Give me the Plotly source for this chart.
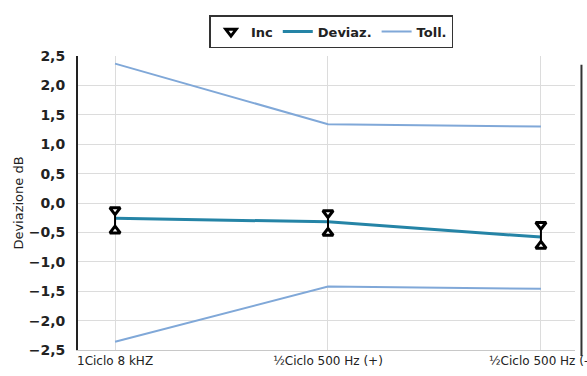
import plotly.graph_objects as go

# dati
categorie = ["1Ciclo 8 kHZ", "½Ciclo 500 Hz (+)", "½Ciclo 500 Hz (-)"]
deviaz = [-0.26, -0.32, -0.58]
inc_sup = [-0.12, -0.17, -0.37]
inc_inf = [-0.47, -0.51, -0.73]
toll_sup = [2.37, 1.34, 1.30]
toll_inf = [-2.36, -1.42, -1.46]

pos = list(range(len(categorie)))
FONT = "DejaVu Sans, Arial"

fig = go.Figure()

# tolleranze
fig.add_trace(go.Scatter(x=pos, y=toll_sup, mode="lines", name="Toll.",
                         legendgroup="toll", line=dict(color="#80a8d8", width=2)))
fig.add_trace(go.Scatter(x=pos, y=toll_inf, mode="lines", name="Toll.",
                         legendgroup="toll", showlegend=False,
                         line=dict(color="#80a8d8", width=2)))

# deviazione
fig.add_trace(go.Scatter(x=pos, y=deviaz, mode="lines", name="Deviaz.",
                         line=dict(color="#2584a6", width=3)))

# incertezza: segmenti verticali + triangoli
seg_x, seg_y = [], []
for p, a, b in zip(pos, inc_sup, inc_inf):
    seg_x += [p, p, None]
    seg_y += [a, b, None]
fig.add_trace(go.Scatter(x=seg_x, y=seg_y, mode="lines", showlegend=False,
                         legendgroup="inc", line=dict(color="black", width=2)))
fig.add_trace(go.Scatter(x=pos, y=inc_sup, mode="markers", name="Inc",
                         legendgroup="inc",
                         marker=dict(symbol="triangle-down", size=9, color="white",
                                     line=dict(color="black", width=3))))
fig.add_trace(go.Scatter(x=pos, y=inc_inf, mode="markers", showlegend=False,
                         legendgroup="inc",
                         marker=dict(symbol="triangle-up", size=9, color="white",
                                     line=dict(color="black", width=3))))

fig.update_layout(
    width=587, height=376,
    margin=dict(l=78, r=12, t=56, b=26, autoexpand=False),
    paper_bgcolor="white", plot_bgcolor="white",
    separators=",.",
    font=dict(family=FONT, size=12, color="#222"),
    legend=dict(orientation="h", x=0.51, xanchor="center", y=1.139, yanchor="top",
                traceorder="reversed", bordercolor="#333", borderwidth=1.5,
                bgcolor="white", font=dict(size=13, weight="bold"), itemwidth=30,
                tracegroupgap=0),
)

fig.update_xaxes(
    tickvals=pos, ticktext=categorie, range=[-0.174, 2.16],
    showgrid=True, gridcolor="#dcdcdc", gridwidth=1,
    showline=True, linecolor="#c8c8c8", linewidth=1, automargin=False,
    ticklabeloverflow="allow",
    ticks="", tickfont=dict(size=12, color="#222"), zeroline=False,
)
fig.update_yaxes(
    range=[-2.5, 2.5], dtick=0.5, tickformat=".1f", automargin=False,
    showgrid=True, gridcolor="#dcdcdc", gridwidth=1,
    showline=True, linecolor="#222", linewidth=2, zeroline=False,
    ticks="", ticklabelstandoff=8,
    tickfont=dict(size=14, color="#222", weight="bold"),
    title=dict(text="Deviazione dB", font=dict(size=13, color="#222"), standoff=2),
)

# bordo destro scuro della scansione
fig.add_shape(type="line", xref="paper", yref="paper", x0=1.013, x1=1.013,
              y0=-0.02, y1=0.97, line=dict(color="#333", width=2))

# niente margine della pagina, così il grafico parte da (0,0)
fig.write_html("out.html", config={"displayModeBar": False},
               post_script="document.body.style.margin='0';")
